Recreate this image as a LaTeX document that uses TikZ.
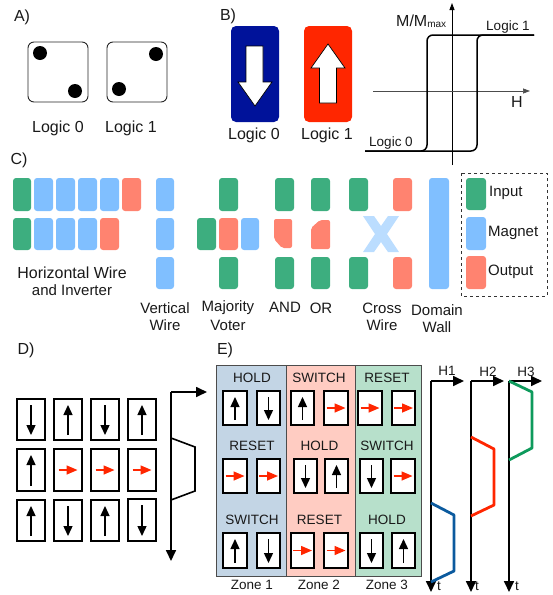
\documentclass[tikz,border=0pt]{standalone}
\usepackage{fontspec}
\setmainfont{Liberation Sans}
\usetikzlibrary{arrows.meta}
\definecolor{cG}{HTML}{3DAE7F}
\definecolor{cB}{HTML}{80BFFF}
\definecolor{cO}{HTML}{FF8370}
\definecolor{cX}{HTML}{BBDDFF}
\definecolor{cNavy}{HTML}{00129A}
\definecolor{cRed}{HTML}{FF2600}
\definecolor{zA}{HTML}{C3D5E5}
\definecolor{zB}{HTML}{FFCCC2}
\definecolor{zC}{HTML}{B7E0CB}
\definecolor{wB}{HTML}{0B5A9E}
\definecolor{wG}{HTML}{0E9A5C}
\tikzset{
  lab/.style={inner sep=0pt,font=\fontsize{16}{16}\selectfont,text=black!90},
  mid/.style={inner sep=0pt,font=\fontsize{15}{15}\selectfont,text=black!90},
  small/.style={inner sep=0pt,font=\fontsize{13.5}{13.5}\selectfont,text=black!90},
  tile/.style={rounded corners=3pt},
  cell/.style={draw=black,line width=1.5pt,fill=white},
  vec/.style={line width=1.4pt,-{Triangle[length=10pt,width=9pt]}},
  rvec/.style={line width=1.5pt,draw=cRed,-{Triangle[length=11pt,width=9pt]}},
  axisline/.style={line width=1.7pt,-{Triangle[length=11pt,width=10pt]}},
  wave/.style={line width=2.8pt,line join=round},
}
% tile: x1 x2 y1 y2 colour
\newcommand{\tl}[5]{\fill[tile,#5] (#1,#3) rectangle (#2,#4);}
% magnet cell: x1 x2 y1 y2
\newcommand{\cU}[4]{\draw[cell] (#1,#3) rectangle (#2,#4);
  \draw[vec] ({(#1+#2)/2},{#4-5}) -- ({(#1+#2)/2},{#3+6});}
\newcommand{\cD}[4]{\draw[cell] (#1,#3) rectangle (#2,#4);
  \draw[vec] ({(#1+#2)/2},{#3+6}) -- ({(#1+#2)/2},{#4-5});}
\newcommand{\cR}[4]{\draw[cell] (#1,#3) rectangle (#2,#4);
  \draw[rvec] ({(#1+#2)/2-9.5},{(#3+#4)/2}) -- ({(#1+#2)/2+9.5},{(#3+#4)/2});}
\begin{document}
\begin{tikzpicture}[x=1pt,y=-1pt]
\useasboundingbox (0,0) rectangle (553,595);
% A
\node[lab] (tA) at (22,17) {A)};
\draw[line width=0.9pt,rounded corners=6pt,draw=black!85] (28,42) rectangle (88,102);
\fill (40,53) circle (7);
\fill (75,91) circle (7);
\draw[line width=0.9pt,rounded corners=6pt,draw=black!85] (107,42) rectangle (167,102);
\fill (156,54) circle (7);
\fill (119,89) circle (7);
\node[lab] (a0) at (58,128) {Logic 0};
\node[lab] (a1) at (131,128) {Logic 1};
% B
\node[lab] (tB) at (228,16) {B)};
\fill[cNavy,rounded corners=5pt] (231,26) rectangle (279,122);
\fill[cRed,rounded corners=5pt] (304,26) rectangle (352,122);
\draw[fill=white,line width=0.7pt,line join=miter] (246,46) -- (263,46) -- (263,82) -- (272,82) -- (255,106) -- (238,82) -- (246,82) -- cycle;
\draw[fill=white,line width=0.7pt,line join=miter] (319.5,103) -- (336.5,103) -- (336.5,68) -- (345,68) -- (328,44) -- (311,68) -- (319.5,68) -- cycle;
\node[lab] (b0) at (254,135) {Logic 0};
\node[lab] (b1) at (327,135) {Logic 1};
% hysteresis
\draw[line width=0.9pt,-{Triangle[length=7pt,width=5pt]}] (452,165) -- (452,3);
\draw[line width=0.7pt,draw=black!70,-{Triangle[length=7pt,width=5pt]}] (373,91) -- (530,91);
\draw[line width=1.5pt,rounded corners=6pt] (534,35) -- (477,35) -- (477,151) -- (365,151);
\draw[line width=1.5pt,rounded corners=6pt] (534,35) -- (427,35) -- (427,151) -- (365,151);
\node[lab,anchor=west] (mm) at (396,21) {M/M\raisebox{-1pt}{\fontsize{10}{10}\selectfont max}};
\node[small] (l1) at (508,27) {Logic 1};
\node[small] (l0) at (391,143) {Logic 0};
\node[lab] (hh) at (517,102) {H};
% C
\node[lab] (tC) at (19,160) {C)};
\tl{13}{31}{178}{211}{cG}\tl{34}{53}{178}{211}{cB}\tl{56}{75}{178}{211}{cB}\tl{78}{97}{178}{211}{cB}\tl{100}{119}{178}{211}{cB}\tl{122}{141}{178}{211}{cO}
\tl{13}{31}{218}{250}{cG}\tl{34}{53}{218}{250}{cB}\tl{56}{75}{218}{250}{cB}\tl{78}{97}{218}{250}{cB}\tl{100}{119}{218}{250}{cO}
\tl{156}{174}{178}{211}{cB}\tl{156}{174}{218}{250}{cB}\tl{156}{174}{257}{289}{cB}
\tl{219}{238}{178}{211}{cG}\tl{197}{216}{218}{250}{cG}\tl{219}{238}{218}{250}{cO}\tl{241}{259}{218}{250}{cB}\tl{219}{238}{257}{289}{cG}
\tl{275}{294}{178}{211}{cG}\tl{275}{294}{257}{289}{cG}
\fill[cO,rounded corners=2pt] (274,219) -- (292,219) -- (292,248) -- (282,248) -- (274,239) -- cycle;
\tl{311}{330}{178}{211}{cG}\tl{311}{330}{257}{289}{cG}
\fill[cO,rounded corners=2pt] (320,220) -- (330,220) -- (330,249) -- (311,249) -- (311,228) -- cycle;
\tl{349}{368}{178}{211}{cG}\tl{393}{412}{178}{211}{cO}\tl{349}{368}{257}{289}{cG}\tl{393}{412}{257}{289}{cO}
\fill[cX] (363,216) -- (374,216) -- (381,226) -- (388,216) -- (399,216) -- (387,234) -- (399,252) -- (388,252) -- (381,242) -- (374,252) -- (363,252) -- (375,234) -- cycle;
\tl{429}{449}{178}{289}{cB}
\draw[dashed,line width=0.7pt,draw=black!80] (461,173) rectangle (547,296);
\tl{466}{486}{178}{210}{cG}\tl{466}{486}{217}{250}{cB}\tl{466}{486}{256}{289}{cO}
\node[mid,anchor=west] (li) at (489,193) {Input};
\node[mid,anchor=west] (lm) at (488,233) {Magnet};
\node[mid,anchor=west] (lo) at (488,272) {Output};
\node[mid,font=\fontsize{16}{16}\selectfont] (c1) at (72,273) {Horizontal Wire};
\node[mid] (c2) at (72,290) {and Inverter};
\node[mid] (c3) at (165,308) {Vertical};
\node[mid] (c4) at (165,325) {Wire};
\node[mid] (c5) at (228,308) {Majority};
\node[mid] (c6) at (228,325) {Voter};
\node[mid] (c7) at (285,307) {AND};
\node[mid] (c8) at (321,308) {OR};
\node[mid] (c9) at (382,308) {Cross};
\node[mid] (c10) at (382,325) {Wire};
\node[mid] (c11) at (437,310) {Domain};
\node[mid] (c12) at (437,327) {Wall};
% D
\node[lab] (tD) at (26,350) {D)};
\cD{17}{45}{399}{440}\cU{54}{82}{399}{440}\cD{91}{119}{399}{440}\cU{128}{156}{399}{440}
\cU{17}{45}{449}{491}\cR{54}{82}{449}{491}\cR{91}{119}{449}{491}\cR{128}{156}{449}{491}
\cU{17}{45}{500}{541}\cD{54}{82}{500}{541}\cU{91}{119}{500}{541}\cD{128}{156}{499}{541}
\coordinate (dO) at (171,392);
\draw[axisline] (dO) -- (207,392);
\draw[axisline] (dO) -- (171,561);
\draw[line width=1.6pt] (171,438) -- (195,447) -- (195,491) -- (171,500);
% E
\node[lab] (tE) at (225,350) {E)};
\fill[zA] (216,365) rectangle (286,576);
\fill[zB] (286,365) rectangle (355,576);
\fill[zC] (355,365) rectangle (421,576);
\draw[line width=0.7pt,draw=black!70] (216,365) rectangle (421,576) (286,365) -- (286,576) (355,365) -- (355,576);
\foreach \n/\x/\y/\t in {e1/252/378/HOLD,e2/319/378/SWITCH,e3/387/378/RESET,e4/252/446/RESET,e5/319.5/446/HOLD,e6/387/446/SWITCH,e7/252/520/SWITCH,e8/319.5/520/RESET,e9/387/520/HOLD}
  \node[small] (\n) at (\x,\y) {\t};
\cU{223}{247}{391}{425}\cD{257}{280}{391}{425}\cU{291}{314}{391}{425}\cR{324}{348}{391}{425}\cR{358}{382}{391}{425}\cR{392}{415}{391}{425}
\cR{223}{247}{459}{493}\cR{257}{280}{459}{493}\cD{294}{317}{459}{493}\cU{325}{348}{459}{493}\cD{360}{383}{459}{493}\cR{391}{415}{459}{493}
\cU{223}{247}{533}{568}\cD{257}{280}{533}{568}\cR{291}{314}{533}{568}\cR{324}{348}{533}{568}\cD{360}{383}{533}{568}\cU{392}{415}{533}{568}
\node[small] (z1) at (252,585) {Zone 1};
\node[small] (z2) at (319,585) {Zone 2};
\node[small] (z3) at (387,585) {Zone 3};
% H waves
\coordinate (h1) at (431,381);
\coordinate (h2) at (471,381);
\coordinate (h3) at (509,381);
\draw[axisline] (h1) -- (464,381);
\draw[axisline] (h1) -- (431,592);
\draw[axisline] (h2) -- (504,381);
\draw[axisline] (h2) -- (471,592);
\draw[axisline] (h3) -- (542,381);
\draw[axisline] (h3) -- (509,592);
\draw[wave,wB] (431,503) -- (454,515) -- (454,571) -- (431,582);
\draw[wave,cRed] (471,437) -- (494,449) -- (494,505) -- (471,516);
\draw[wave,wG] (509,381) -- (532,392) -- (532,448) -- (509,460);
\node[small] (h1t) at (447,371) {H1};
\node[small] (h2t) at (488,372) {H2};
\node[small] (h3t) at (526,372) {H3};
\node[small] (t1) at (439,586) {t};
\node[small] (t2) at (477,586) {t};
\node[small] (t3) at (517,586) {t};
\end{tikzpicture}
\end{document}
